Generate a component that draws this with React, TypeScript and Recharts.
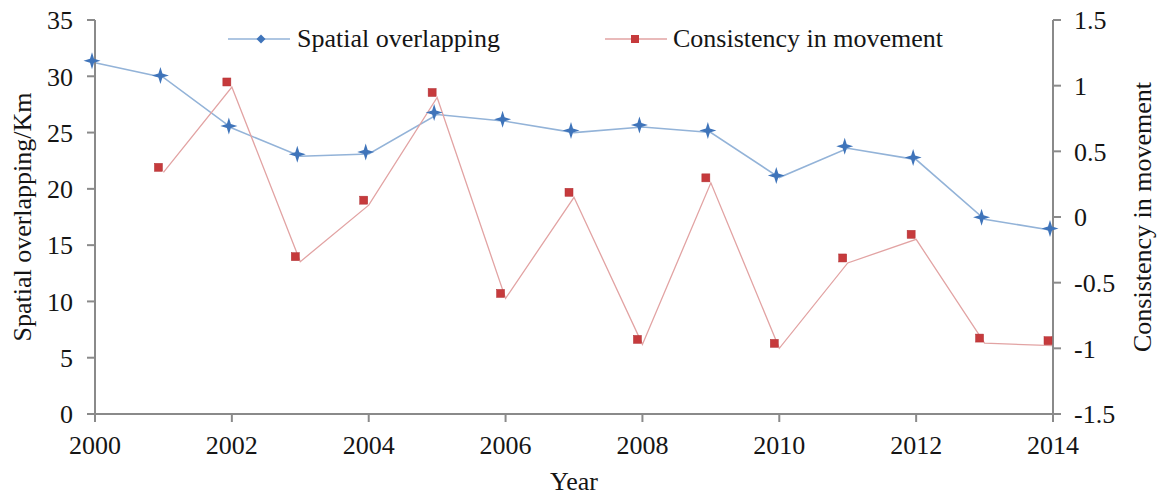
import { LineChart, Line, XAxis, YAxis, Legend, Label } from "recharts";

const YEARS = [2000, 2001, 2002, 2003, 2004, 2005, 2006, 2007, 2008, 2009, 2010, 2011, 2012, 2013, 2014];
const SPATIAL = [31.2, 29.9, 25.4, 22.9, 23.1, 26.6, 26.0, 25.0, 25.5, 25.0, 21.0, 23.6, 22.6, 17.3, 16.3];
const CONSISTENCY = [null, 0.34, 0.99, -0.34, 0.09, 0.91, -0.62, 0.15, -0.97, 0.26, -1.0, -0.35, -0.17, -0.96, -0.98];

const X_TICKS = [2000, 2002, 2004, 2006, 2008, 2010, 2012, 2014];
const LEFT_TICKS = [0, 5, 10, 15, 20, 25, 30, 35];
const RIGHT_TICKS = [-1.5, -1, -0.5, 0, 0.5, 1, 1.5];

const FONT = "'Liberation Serif', 'Times New Roman', serif";
const AXIS = "#8a8a8a";
const TEXT = "#151515";
const BLUE_LINE = "#93b3d8";
const BLUE_DOT = "#3f74ba";
const RED_LINE = "#e2a3a3";
const RED_DOT = "#c63a3c";

const data = YEARS.map((year, i) => ({ year, spatial: SPATIAL[i], consistency: CONSISTENCY[i] }));

const textStyle = { fill: TEXT, fontSize: 26, fontFamily: FONT };

// serif tick text (the default tick ignores the family)
function SerifTick(props: any) {
  const { x, y, textAnchor, verticalAnchor, payload } = props;
  const dy = verticalAnchor === "start" ? "0.71em" : "0.355em";
  return (
    <text x={x} y={y} dy={dy} textAnchor={textAnchor} style={textStyle}>
      {String(payload.value)}
    </text>
  );
}

// markers in the source sit a few px up-left of the line vertices
function StarDot(props: any) {
  const { cx, cy } = props;
  if (cx == null || cy == null) return null;
  return (
    <path
      transform={`translate(${cx - 3},${cy - 2})`}
      d="M0,-8.5 L2,-2 L8.5,0 L2,2 L0,8.5 L-2,2 L-8.5,0 L-2,-2 Z"
      fill={BLUE_DOT}
    />
  );
}

function SquareDot(props: any) {
  const { cx, cy, value } = props;
  if (cx == null || cy == null || value == null) return null;
  return <rect x={cx - 5 - 4} y={cy - 5 - 4} width={8} height={8} fill={RED_DOT} stroke="#b03034" strokeWidth={0.5} />;
}

function LegendBox() {
  return (
    <div style={{ display: "flex", alignItems: "center", height: 30, fontFamily: FONT, fontSize: 26, color: TEXT, whiteSpace: "nowrap" }}>
      <svg width={62} height={14}>
        <line x1={0} y1={7} x2={62} y2={7} stroke={BLUE_LINE} strokeWidth={1.5} />
        <path d="M33,2.5 L37.5,7 L33,11.5 L28.5,7 Z" fill={BLUE_DOT} />
      </svg>
      <span style={{ marginLeft: 7, width: 308 }}>Spatial overlapping</span>
      <svg width={62} height={14}>
        <line x1={0} y1={7} x2={62} y2={7} stroke={RED_LINE} strokeWidth={1.3} />
        <rect x={26} y={3} width={8} height={8} fill={RED_DOT} />
      </svg>
      <span style={{ marginLeft: 6 }}>Consistency in movement</span>
    </div>
  );
}

export default function App() {
  return (
    <div>
      <style>{"body{margin:0}"}</style>
      <LineChart width={1159} height={495} data={data} margin={{ top: 20, right: 0, left: 0, bottom: 0 }}>
        <XAxis
          dataKey="year"
          type="number"
          domain={[2000, 2014]}
          ticks={X_TICKS}
          height={81}
          tickSize={8}
          tickMargin={14}
          tick={<SerifTick />}
          stroke={AXIS}
          strokeWidth={2}
          interval={0}
        >
          <Label value="Year" position="insideBottom" offset={5} style={textStyle} />
        </XAxis>
        <YAxis
          yAxisId="l"
          domain={[0, 35]}
          ticks={LEFT_TICKS}
          width={95}
          tickSize={8}
          tickMargin={14}
          tick={<SerifTick />}
          stroke={AXIS}
          strokeWidth={2}
          interval={0}
        >
          <Label
            value="Spatial overlapping/Km"
            angle={-90}
            position="insideLeft"
            offset={22}
            style={{ ...textStyle, textAnchor: "middle" }}
          />
        </YAxis>
        <YAxis
          yAxisId="r"
          orientation="right"
          domain={[-1.5, 1.5]}
          ticks={RIGHT_TICKS}
          width={106}
          tickSize={8}
          tickMargin={13}
          tick={<SerifTick />}
          stroke={AXIS}
          strokeWidth={2}
          interval={0}
        >
          <Label
            value="Consistency in movement"
            angle={-90}
            position="insideRight"
            offset={17}
            style={{ ...textStyle, textAnchor: "middle" }}
          />
        </YAxis>
        <Legend
          layout="horizontal"
          verticalAlign="middle"
          align="center"
          wrapperStyle={{ top: 24, left: 228, width: "auto" }}
          content={() => <LegendBox />}
        />
        <Line
          yAxisId="l"
          dataKey="spatial"
          stroke={BLUE_LINE}
          strokeWidth={1.6}
          dot={<StarDot />}
          activeDot={false}
          isAnimationActive={false}
        />
        <Line
          yAxisId="r"
          dataKey="consistency"
          stroke={RED_LINE}
          strokeWidth={1.3}
          dot={<SquareDot />}
          activeDot={false}
          isAnimationActive={false}
        />
      </LineChart>
    </div>
  );
}
